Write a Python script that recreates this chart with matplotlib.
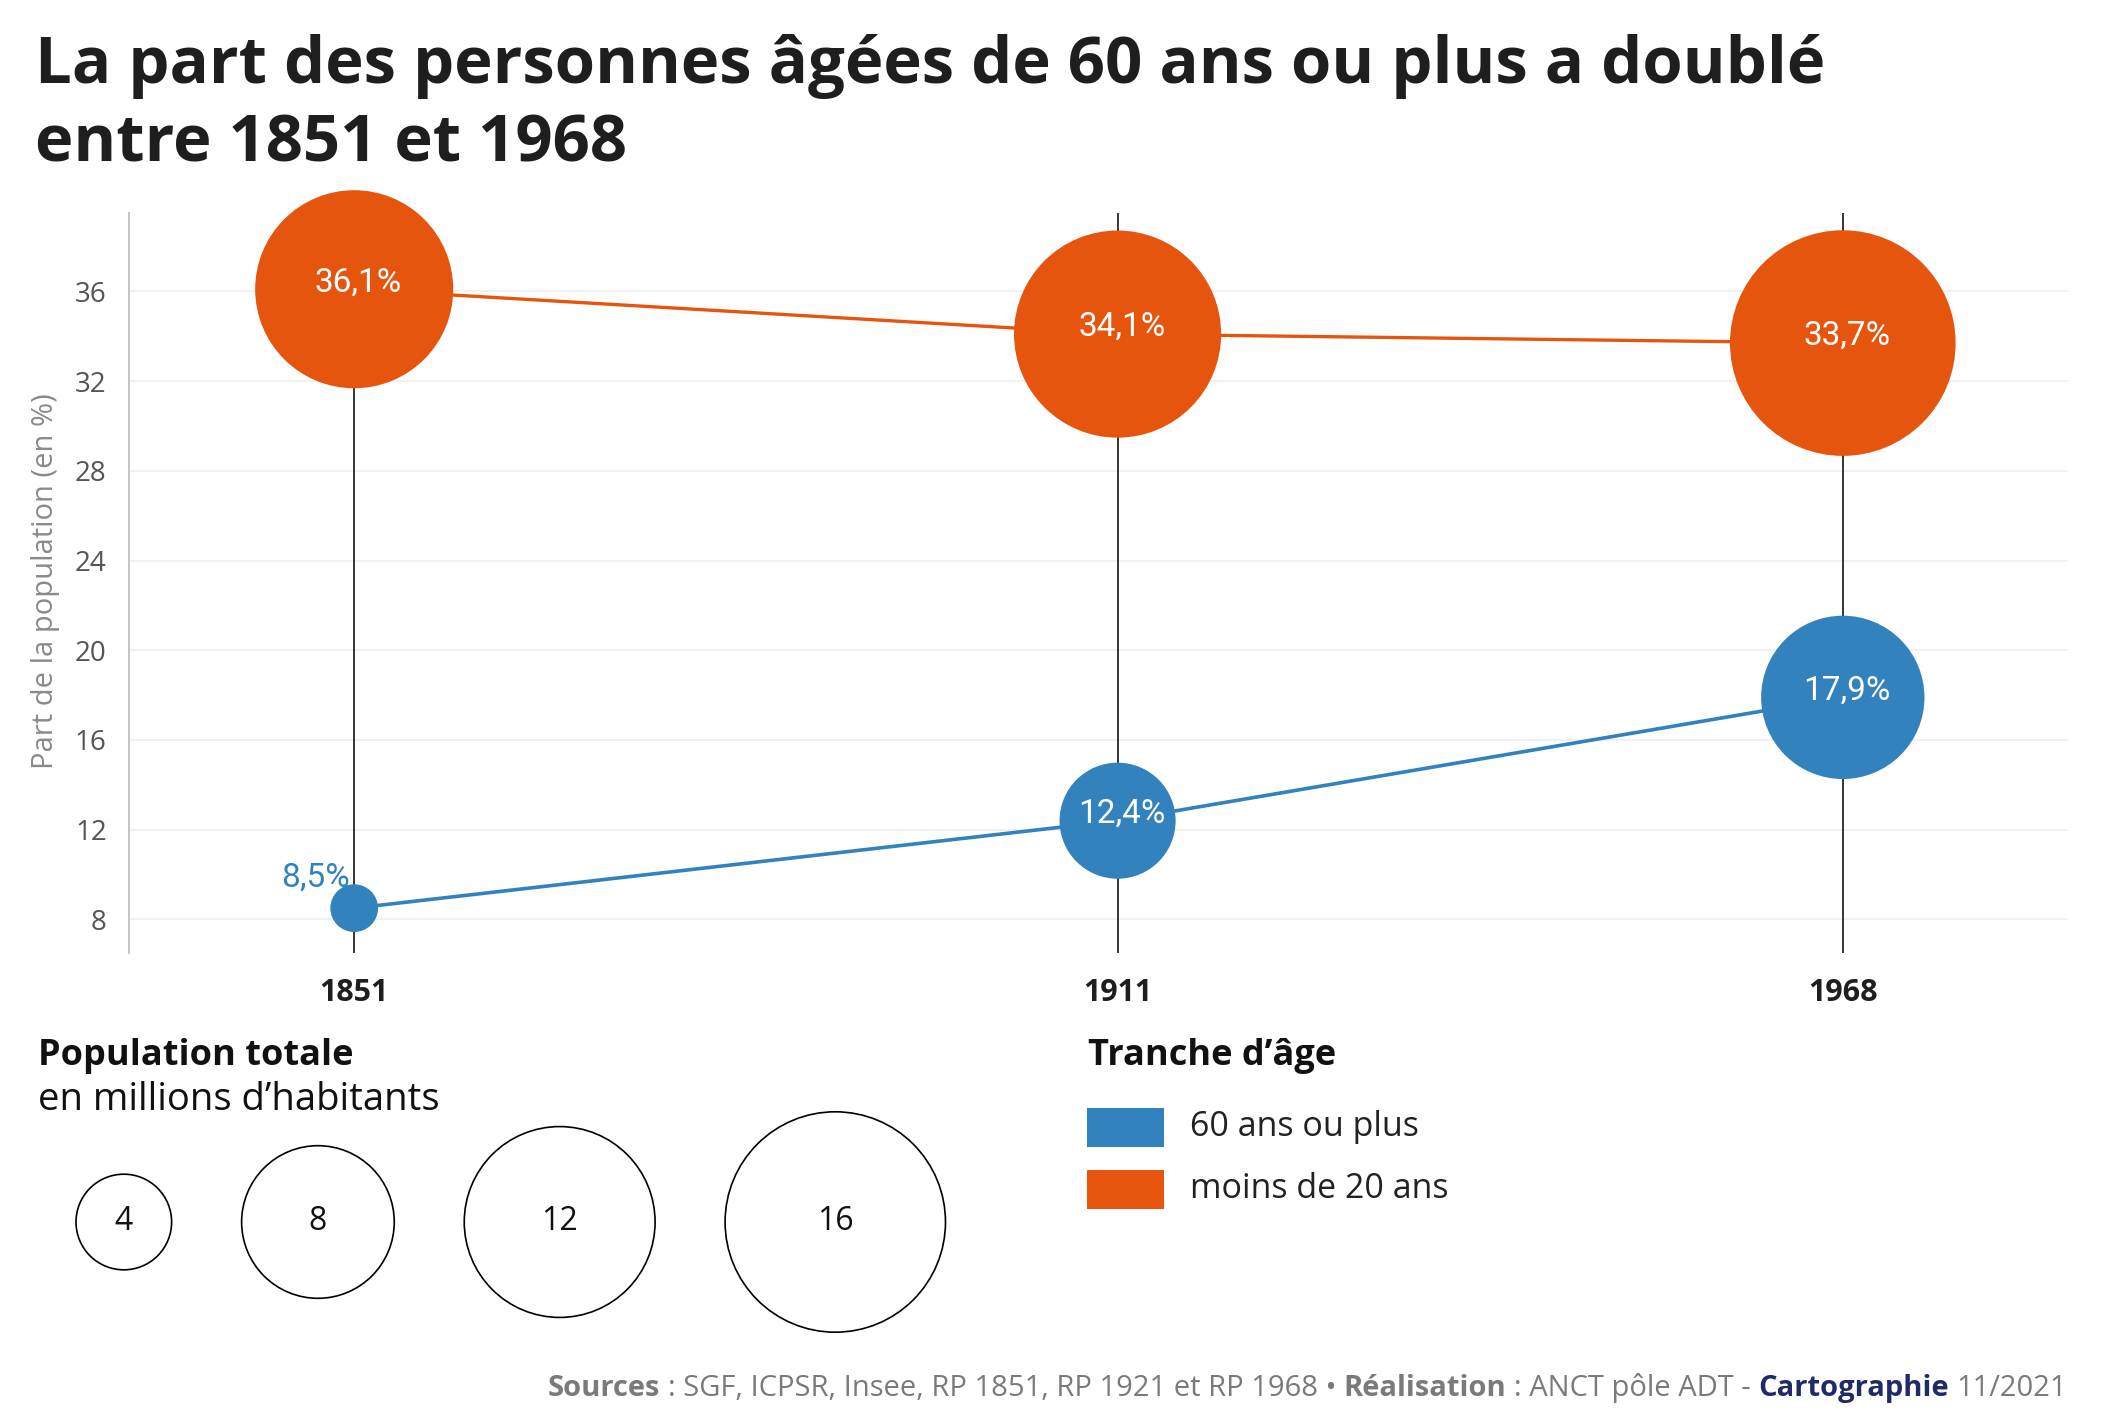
import numpy as np
import matplotlib.pyplot as plt
from matplotlib.patches import Circle, Rectangle

W, H, DPI = 2103, 1418, 100

## Données
annees = [1851, 1911, 1968]
part_moins20 = [36.1, 34.1, 33.7]             # part des moins de 20 ans (%)
part_60plus = [8.5, 12.4, 17.9]               # part des 60 ans ou plus (%)
pop_moins20 = [12.9, 14.1, 16.8]
pop_60plus = [2.0, 5.2, 9.0]
etiq_moins20 = ['36,1%', '34,1%', '33,7%']
etiq_60plus = ['8,5%', '12,4%', '17,9%']
yticks = [8, 12, 16, 20, 24, 28, 32, 36]
legende_pop = [4, 8, 12, 16]
tranches = ['60 ans ou plus', 'moins de 20 ans']

ORANGE = '#e6550d'
BLEU = '#3182bd'
FONT = ['Open Sans', 'DejaVu Sans']
NARROW = ['Liberation Sans Narrow', 'Roboto', 'DejaVu Sans']
plt.rcParams['font.family'] = FONT


def diametre_px(pop):                          # échelle des cercles (diamètre en pixels)
    return 213 * np.asarray(pop, float) ** 0.25 - 205.6


def taille_pt2(pop):                           # taille scatter en points^2
    return (diametre_px(pop) * 72 / DPI) ** 2


fig = plt.figure(figsize=(W / DPI, H / DPI), dpi=DPI)

ax = fig.add_axes([129 / W, 1 - 953 / H, (2068 - 129) / W, (953 - 213) / H])
ax.set_xlim(1833.3, 1985.7)
ax.set_ylim(6.5, 39.5)
ax.set_yticks(yticks)
ax.set_xticks(annees)
ax.set_xticklabels([str(a) for a in annees], fontweight='bold', color='#1e1e1e')
ax.tick_params(axis='y', length=0, pad=16, labelsize=20, labelcolor='#555555')
ax.tick_params(axis='x', length=0, pad=18, labelsize=22)
ax.grid(axis='y', color='#eeeeee', lw=1.1, zorder=0)
for s in ['top', 'right', 'bottom']:
    ax.spines[s].set_visible(False)
ax.spines['left'].set_color('#c4c4c4')
ax.spines['left'].set_linewidth(1.4)

for a in annees:
    ax.axvline(a, color='black', lw=1.1, zorder=2)

ax.plot(annees, part_moins20, color=ORANGE, lw=2.4, zorder=3)
ax.plot(annees, part_60plus, color=BLEU, lw=2.6, zorder=3)
ax.scatter(annees, part_moins20, s=taille_pt2(pop_moins20), color=ORANGE, zorder=4, clip_on=False, linewidths=0)
ax.scatter(annees, part_60plus, s=taille_pt2(pop_60plus), color=BLEU, zorder=4, clip_on=False, linewidths=0)

for a, v, t in zip(annees, part_moins20, etiq_moins20):
    ax.annotate(t, (a, v), xytext=(3, 5), textcoords='offset points', ha='center', va='center',
                color='white', fontsize=24, family=NARROW, zorder=5)
for i, (a, v, t) in enumerate(zip(annees, part_60plus, etiq_60plus)):
    if i == 0:
        ax.annotate(t, (a, v), xytext=(-3, 22), textcoords='offset points', ha='right', va='center',
                    color=BLEU, fontsize=24, family=NARROW, zorder=5)
    else:
        ax.annotate(t, (a, v), xytext=(3, 5), textcoords='offset points', ha='center', va='center',
                    color='white', fontsize=24, family=NARROW, zorder=5)

# calque en pixels pour le titre, les légendes et la source
ov = fig.add_axes([0, 0, 1, 1])
ov.set_xlim(0, W)
ov.set_ylim(H, 0)
ov.axis('off')

ov.text(35, 83, 'La part des personnes âgées de 60 ans ou plus a doublé', fontsize=47,
        fontweight='bold', color='#1e1e1e', va='baseline')
ov.text(35, 162, 'entre 1851 et 1968', fontsize=47, fontweight='bold', color='#1e1e1e', va='baseline')

ov.text(46, 581, 'Part de la population (en %)', rotation=90, ha='center', va='center',
        fontsize=21, color='#8a8a8a')

# légende des cercles
ov.text(38, 1065, 'Population totale', fontsize=26, fontweight='bold', color='#111111', va='baseline')
ov.text(38, 1110, 'en millions d\u2019habitants', fontsize=27.5, color='#111111', va='baseline')
d_leg = diametre_px(legende_pop)
x = 76
for v, d in zip(legende_pop, d_leg):
    cx = x + d / 2
    ov.add_patch(Circle((cx, 1222), d / 2, facecolor='white', edgecolor='black', lw=1.2))
    ov.text(cx, 1222, str(v), ha='center', va='center', fontsize=23, color='#111111')
    x = cx + d / 2 + 70

# légende des tranches d'âge
ov.text(1088, 1065, 'Tranche d\u2019âge', fontsize=26, fontweight='bold', color='#111111', va='baseline')
for i, (lab, c) in enumerate(zip(tranches, [BLEU, ORANGE])):
    y0 = 1108 + i * 62
    ov.add_patch(Rectangle((1087, y0), 77, 39, facecolor=c, edgecolor='none'))
    ov.text(1190, y0 + 19, lab, fontsize=24.5, color='#222222', va='center')

# source, écrite de droite à gauche
pieces = [('Sources', 'bold', '#7a7a7a'),
          (' : SGF, ICPSR, Insee, RP 1851, RP 1921 et RP 1968 \u2022 ', 'normal', '#7a7a7a'),
          ('Réalisation', 'bold', '#7a7a7a'),
          (' : ANCT pôle ADT - ', 'normal', '#7a7a7a'),
          ('Cartographie', 'bold', '#1f2a66'),
          (' 11/2021', 'normal', '#7a7a7a')]
r = fig.canvas.get_renderer()
FS_SRC = 21


def largeur(txt, w):
    t = ov.text(0, 0, txt, fontsize=FS_SRC, fontweight=w)
    bb = t.get_window_extent(r)
    t.remove()
    return bb.width


esp = largeur('a a', 'normal') - largeur('aa', 'normal')
xr = 2067
for txt, w, c in reversed(pieces):
    core = txt.strip()
    xr -= (len(txt) - len(txt.rstrip())) * esp
    ov.text(xr, 1396, core, fontsize=FS_SRC, fontweight=w, color=c, ha='right', va='baseline')
    xr -= largeur(core, w)
    xr -= (len(txt) - len(txt.lstrip())) * esp

fig.savefig('out.png', dpi=DPI)
